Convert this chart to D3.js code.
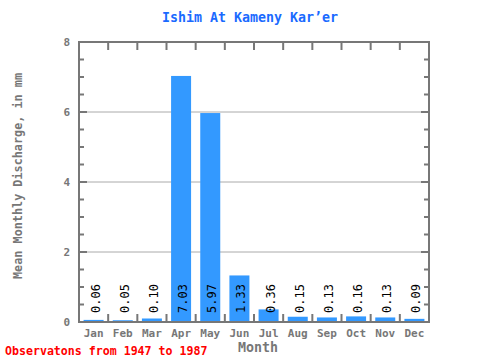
<!DOCTYPE html>
<html><head><meta charset="utf-8">
<script src="https://cdn.jsdelivr.net/npm/d3@7"></script>
<style>body{margin:0;background:#fff}svg{display:block}</style>
</head><body>
<script>
const months = ["Jan","Feb","Mar","Apr","May","Jun","Jul","Aug","Sep","Oct","Nov","Dec"];
const values = [0.06,0.05,0.10,7.03,5.97,1.33,0.36,0.15,0.13,0.16,0.13,0.09];
const labels = ["0.06","0.05","0.10","7.03","5.97","1.33","0.36","0.15","0.13","0.16","0.13","0.09"];
const yTicks = [0,2,4,6,8];

const W=480,H=360, L=79, R=429, T=42, B=322;
const font = "'DejaVu Sans Mono', monospace";
const svg = d3.select("body").append("svg").attr("width",W).attr("height",H);
const x = d3.scaleBand().domain(months).range([L,R]);
const y = d3.scaleLinear().domain([0,8]).range([B,T]);

// grid
svg.append("g").selectAll("line").data([2,4,6]).join("line")
  .attr("x1",L).attr("x2",R).attr("y1",d=>y(d)).attr("y2",d=>y(d))
  .attr("stroke","#aaa").attr("stroke-width",1);

// bars
svg.append("g").selectAll("rect").data(values).join("rect")
  .attr("x",(d,i)=>x(months[i])+x.bandwidth()/2-10).attr("width",20)
  .attr("y",d=>y(d)).attr("height",d=>B-y(d)).attr("fill","#3399ff");

// value labels
svg.append("g").selectAll("text").data(labels).join("text")
  .attr("transform",(d,i)=>`translate(${x(months[i])+x.bandwidth()/2+6},${B-9}) rotate(-90)`)
  .attr("font-family",font).attr("font-size",12).attr("fill","#000").text(d=>d);

// frame
const fc="#777";
svg.append("rect").attr("x",L).attr("y",T).attr("width",R-L).attr("height",B-T)
  .attr("fill","none").attr("stroke",fc).attr("stroke-width",2);

// y ticks (inward) on left and right
const minor = d3.range(0,8.01,0.5);
svg.append("g").selectAll("line").data(minor).join("line")
  .attr("x1",L).attr("x2",d=>L+(d%2===0?8:5)).attr("y1",d=>y(d)).attr("y2",d=>y(d))
  .attr("stroke",fc).attr("stroke-width",2);
svg.append("g").selectAll("line").data(minor).join("line")
  .attr("x1",R).attr("x2",d=>R-(d%2===0?8:5)).attr("y1",d=>y(d)).attr("y2",d=>y(d))
  .attr("stroke",fc).attr("stroke-width",2);
// x ticks at month boundaries
const bounds = months.slice(1).map(m=>x(m));
svg.append("g").selectAll("line").data(bounds).join("line")
  .attr("x1",d=>d).attr("x2",d=>d).attr("y1",T).attr("y2",T+8)
  .attr("stroke",fc).attr("stroke-width",2);
svg.append("g").selectAll("line").data(bounds).join("line")
  .attr("x1",d=>d).attr("x2",d=>d).attr("y1",B).attr("y2",B-8)
  .attr("stroke",fc).attr("stroke-width",2);

// y tick labels
svg.append("g").selectAll("text").data(yTicks).join("text")
  .attr("x",L-9).attr("y",d=>y(d)+4).attr("text-anchor","end")
  .attr("font-family",font).attr("font-size",11).attr("font-weight","bold").attr("fill","#777").text(d=>d);

// month labels
svg.append("g").selectAll("text").data(months).join("text")
  .attr("x",d=>x(d)+x.bandwidth()/2).attr("y",337).attr("text-anchor","middle")
  .attr("font-family",font).attr("font-size",11).attr("font-weight","bold").attr("fill","#777").text(d=>d);

// axis titles
svg.append("text").attr("x",258).attr("y",352).attr("text-anchor","middle")
  .attr("font-family",font).attr("font-size",13.3).attr("font-weight","bold").attr("fill","#777").text("Month");
svg.append("text").attr("transform",`translate(22,176) rotate(-90)`).attr("text-anchor","middle")
  .attr("font-family",font).attr("font-size",11.8).attr("font-weight","bold").attr("fill","#777")
  .text("Mean Monthly Discharge, in mm");

// title
svg.append("text").attr("x",250).attr("y",22).attr("text-anchor","middle")
  .attr("font-family",font).attr("font-size",13.3).attr("font-weight","bold").attr("fill","#1a6aff")
  .text("Ishim At Kameny Kar’er");

// footer
svg.append("text").attr("x",5).attr("y",355)
  .attr("font-family",font).attr("font-size",11.6).attr("font-weight","bold").attr("fill","#ff0000")
  .text("Observatons from 1947 to 1987");
</script>
</body></html>
